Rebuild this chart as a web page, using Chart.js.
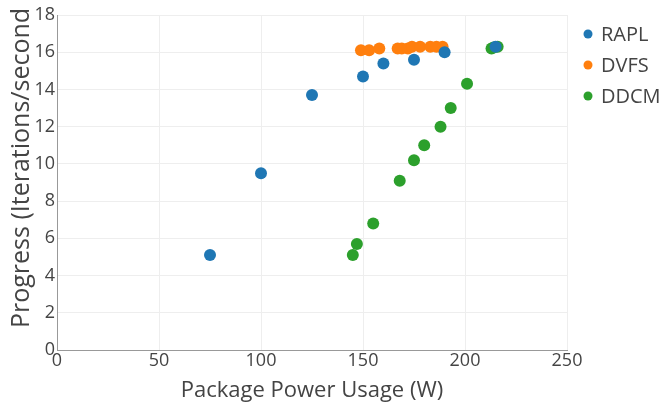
<!DOCTYPE html>
<html>
<head>
<meta charset="utf-8">
<script src="https://cdn.jsdelivr.net/npm/chart.js@4"></script>
<style>
  html, body { margin: 0; padding: 0; background: #fff; }
  #wrap { width: 666px; height: 404px; position: relative; }
</style>
</head>
<body>
<div id="wrap"><canvas id="chart" width="666" height="404"></canvas></div>
<script>
// series data: [power (W), progress (iterations/second)]
const raplPower = [75, 100, 125, 150, 160, 175, 190, 215];
const raplProgress = [5.1, 9.5, 13.7, 14.7, 15.4, 15.6, 16.0, 16.3];

const dvfsPower = [149, 153, 158, 167, 169, 172, 174, 178, 183, 186, 189];
const dvfsProgress = [16.1, 16.1, 16.2, 16.2, 16.2, 16.2, 16.3, 16.3, 16.3, 16.3, 16.3];

const ddcmPower = [145, 147, 155, 168, 175, 180, 188, 193, 201, 213, 214, 216];
const ddcmProgress = [5.1, 5.7, 6.8, 9.1, 10.2, 11.0, 12.0, 13.0, 14.3, 16.2, 16.25, 16.3];

const seriesNames = ['RAPL', 'DVFS', 'DDCM'];
const seriesColors = ['#1f77b4', '#ff7f0e', '#2ca02c'];

const xTicks = [0, 50, 100, 150, 200, 250];
const yTicks = [0, 2, 4, 6, 8, 10, 12, 14, 16, 18];

const xTitle = 'Package Power Usage (W)';
const yTitle = 'Progress (Iterations/second';

const toPoints = (xs, ys) => xs.map((x, i) => ({ x: x, y: ys[i] }));

window.onload = function() {
    const textColor = '#444';
    const fontFamily = '"Open Sans", sans-serif';

    // legend at the right and the long y title, placed like the original
    const extras = {
        id: 'extras',
        afterDraw(chart) {
            const ctx = chart.ctx;
            ctx.save();
            ctx.font = '20px ' + fontFamily;
            ctx.textBaseline = 'middle';
            chart.data.datasets.forEach((ds, i) => {
                const y = 34 + i * 31;
                ctx.beginPath();
                ctx.arc(588, y, 4.5, 0, Math.PI * 2);
                ctx.fillStyle = ds.backgroundColor;
                ctx.fill();
                ctx.fillStyle = textColor;
                ctx.fillText(ds.label, 601, y + 1);
            });
            ctx.restore();

            ctx.save();
            ctx.translate(22, 328);
            ctx.rotate(-Math.PI / 2);
            ctx.font = '25px ' + fontFamily;
            ctx.fillStyle = textColor;
            ctx.textAlign = 'left';
            ctx.textBaseline = 'middle';
            ctx.fillText(yTitle, 0, 0);
            ctx.restore();
        }
    };

    const makeSet = (i, xs, ys) => ({
        label: seriesNames[i],
        data: toPoints(xs, ys),
        backgroundColor: seriesColors[i],
        borderColor: seriesColors[i],
        borderWidth: 0,
        pointRadius: 6,
        pointHoverRadius: 6
    });

    new Chart(document.getElementById('chart').getContext('2d'), {
        type: 'scatter',
        data: {
            datasets: [
                makeSet(0, raplPower, raplProgress),
                makeSet(1, dvfsPower, dvfsProgress),
                makeSet(2, ddcmPower, ddcmProgress)
            ]
        },
        options: {
            responsive: false,
            animation: false,
            layout: { padding: { top: 15, right: 99, left: 0, bottom: 0 } },
            plugins: {
                legend: { display: false },
                tooltip: { enabled: false }
            },
            scales: {
                x: {
                    type: 'linear',
                    min: 0,
                    max: 250,
                    afterBuildTicks: (axis) => { axis.ticks = xTicks.map(v => ({ value: v })); },
                    afterFit: (axis) => { axis.height = 54; },
                    grid: { color: '#eee', drawTicks: false },
                    border: { color: '#999', width: 1 },
                    ticks: { color: textColor, font: { family: fontFamily, size: 18 }, padding: 0, maxRotation: 0 },
                    title: {
                        display: true,
                        text: xTitle,
                        color: textColor,
                        font: { family: fontFamily, size: 22 },
                        padding: { top: 0, bottom: 0 }
                    }
                },
                y: {
                    type: 'linear',
                    min: 0,
                    max: 18,
                    afterBuildTicks: (axis) => { axis.ticks = yTicks.map(v => ({ value: v })); },
                    afterFit: (axis) => { axis.width = 57; },
                    grid: { color: '#eee', drawTicks: false },
                    border: { color: '#999', width: 1 },
                    ticks: { color: textColor, font: { family: fontFamily, size: 18 }, padding: 2 }
                }
            }
        },
        plugins: [extras]
    });
};
</script>
</body>
</html>
